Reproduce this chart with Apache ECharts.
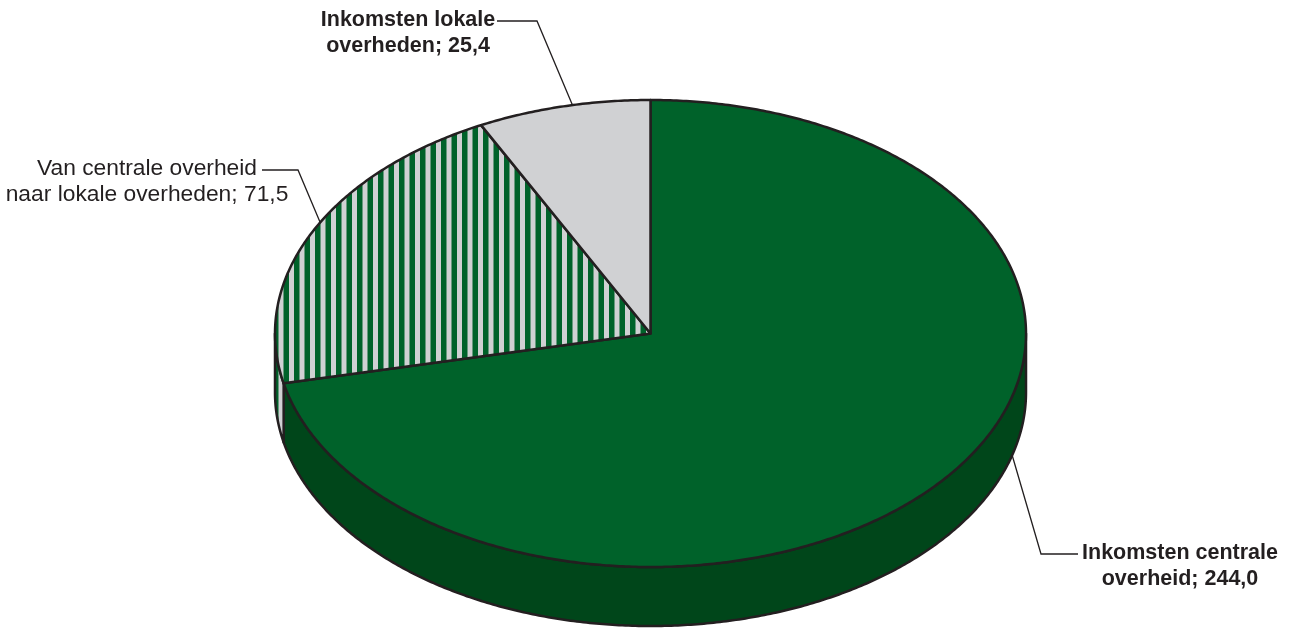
<!DOCTYPE html>
<html><head><meta charset="utf-8">
<script src="https://cdn.jsdelivr.net/npm/echarts@6/dist/echarts.min.js"></script>
<style>html,body{margin:0;padding:0;background:#fff}#c{width:1292px;height:628px}</style>
</head><body><div id="c"></div>
<script>
// ---- data ----
const categories = ['Inkomsten centrale overheid', 'Van centrale overheid naar lokale overheden', 'Inkomsten lokale overheden'];
const values = [244.0, 71.5, 25.4];
const labelHead = ['Inkomsten centrale', 'Van centrale overheid', 'Inkomsten lokale'];
const labelTail = ['overheid', 'naar lokale overheden', 'overheden'];
const labelBold = [true, false, true];

// ---- layout / style ----
const PIE = { cx: 650.5, cy: 333.5, rx: 375.5, ry: 233.5, depth: 59, startDeg: -90 };
const INK = '#231f20';
const GREEN = '#00622a', GREEN_SIDE = '#00461a', GRAY = '#d0d1d3';
const LABELS = [
  { tx: 1180, ty: 553, anchorDeg: 15.6, anchorBottom: true, lineX: 1078, elbowX: 1041 },
  { tx: 147, ty: 169, anchorDeg: 208.4, anchorBottom: false, lineX: 262, elbowX: 298 },
  { tx: 408, ty: 20, anchorDeg: -102, anchorBottom: false, lineX: 497, elbowX: 537 }
];

function makeStripe() {
  const c = document.createElement('canvas');
  c.width = 21; c.height = 4;
  const g = c.getContext('2d');
  g.fillStyle = GRAY; g.fillRect(0, 0, 21, 4);
  g.fillStyle = GREEN; g.fillRect(0, 0, 5.5, 4); g.fillRect(10.5, 0, 5.5, 4);
  return c;
}
const stripe = { image: makeStripe(), repeat: 'repeat' };
const topFill = [GREEN, stripe, GRAY];
const sideFill = [GREEN_SIDE, stripe, GRAY];

const total = values.reduce((a, b) => a + b, 0);
const angles = [];
{ let a = PIE.startDeg; values.forEach(v => { const b = a + v / total * 360; angles.push([a, b]); a = b; }); }

function pt(deg, dy) {
  const r = deg * Math.PI / 180;
  return [PIE.cx + PIE.rx * Math.cos(r), PIE.cy + PIE.ry * Math.sin(r) + (dy || 0)];
}
function arc(a1, a2, dy) {
  const pts = []; const n = Math.max(2, Math.ceil(Math.abs(a2 - a1) / 0.5));
  for (let i = 0; i <= n; i++) pts.push(pt(a1 + (a2 - a1) * i / n, dy));
  return pts;
}
function fmt(v) { return v.toFixed(1).replace('.', ','); }

function renderItem(params, api) {
  const i = params.dataIndex;
  const [a1, a2] = angles[i];
  const children = [];
  for (let k = -1; k <= 1; k++) {
    const lo = Math.max(a1, 0 + 360 * k), hi = Math.min(a2, 180 + 360 * k);
    if (hi > lo) {
      const pts = arc(lo, hi, 0).concat(arc(hi, lo, PIE.depth));
      children.push({ type: 'polygon', z2: 1, shape: { points: pts },
        style: { fill: sideFill[i], stroke: INK, lineWidth: 2.5, lineJoin: 'round' } });
    }
  }
  const topPts = [[PIE.cx, PIE.cy]].concat(arc(a1, a2, 0));
  children.push({ type: 'polygon', z2: 2, shape: { points: topPts },
    style: { fill: topFill[i], stroke: INK, lineWidth: 2.5, lineJoin: 'round' } });
  const L = LABELS[i];
  const fs = labelBold[i] ? 21.5 : 22.8;
  children.push({ type: 'text', z2: 5, style: {
    text: labelHead[i] + '\n' + labelTail[i] + '; ' + fmt(values[i]),
    x: L.tx, y: L.ty - 13, align: 'center', verticalAlign: 'top', lineHeight: 26,
    font: (labelBold[i] ? 'bold ' : '') + fs + 'px "Liberation Sans", Arial, sans-serif', fill: INK } });
  const ad = L.anchorDeg != null ? L.anchorDeg : (a1 + a2) / 2;
  const anchor = pt(ad, L.anchorBottom ? PIE.depth : 0);
  const ly = L.ty + 1;
  children.push({ type: 'polyline', z2: 4, shape: { points: [[L.lineX, ly], [L.elbowX, ly], anchor] },
    style: { stroke: INK, lineWidth: 1.3, fill: null } });
  return { type: 'group', children };
}

const chart = echarts.init(document.getElementById('c'), null, { renderer: 'canvas' });
chart.setOption({
  backgroundColor: '#ffffff',
  animation: false,
  series: [{ type: 'custom', coordinateSystem: 'none', renderItem,
    data: values.map((v, i) => ({ name: categories[i], value: v })) }]
});
</script></body></html>
